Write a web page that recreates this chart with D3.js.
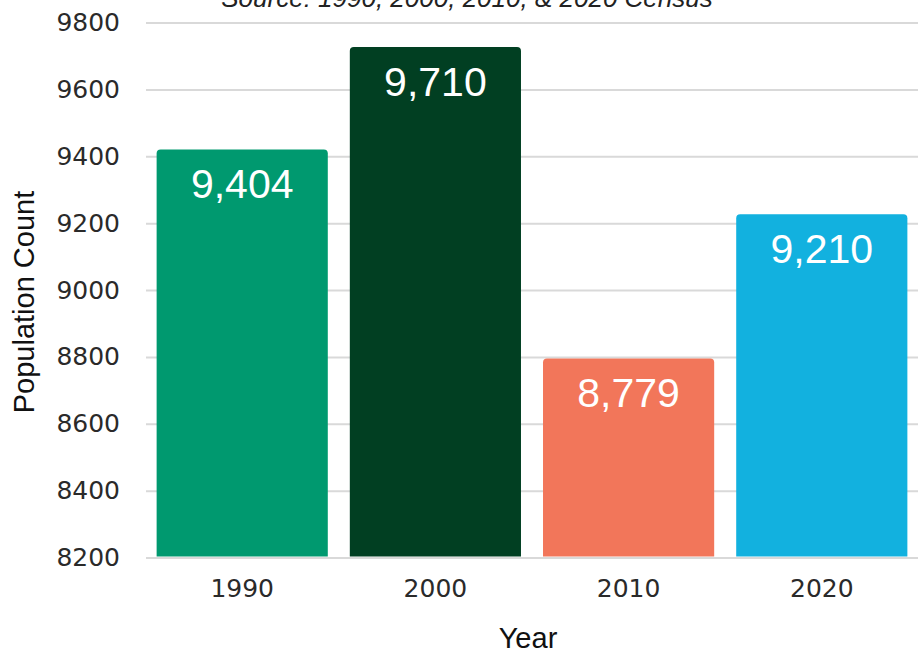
<!DOCTYPE html>
<html><head><meta charset="utf-8">
<script src="https://cdn.jsdelivr.net/npm/d3@7"></script>
<style>body{margin:0;background:#fff}svg{display:block}</style>
</head><body>
<script>
const years = ["1990","2000","2010","2020"];
const population = [9404, 9710, 8779, 9210];
const barColors = ["#00996f","#013f22","#f2765a","#12b1df"];
const yTicks = [8200,8400,8600,8800,9000,9200,9400,9600,9800];
const titleText = "Source: 1990, 2000, 2010, & 2020 Census";

const W = 922, H = 654;
const m = {left:146, right:4, top:22.5, bottom:96.5};
const svg = d3.select("body").append("svg").attr("width",W).attr("height",H);

const x = d3.scaleBand().domain(years).range([m.left, W-m.right]).paddingInner(0.114).paddingOuter(0.055);
const y = d3.scaleLinear().domain([8200,9800]).range([H-m.bottom, m.top]);

// gridlines
svg.append("g").attr("class","grid")
  .attr("transform",`translate(${m.left},0)`)
  .call(d3.axisLeft(y).tickValues(yTicks).tickSize(-(W-m.right-m.left)).tickFormat(""))
  .call(g=>g.select(".domain").remove())
  .call(g=>g.selectAll("line").attr("stroke","#d9d9d9").attr("stroke-width",2));

// y tick labels
svg.append("g")
  .attr("transform",`translate(${m.left},0)`)
  .call(d3.axisLeft(y).tickValues(yTicks).tickSize(0).tickPadding(26).tickFormat(d3.format("d")))
  .call(g=>g.select(".domain").remove())
  .call(g=>g.selectAll("text").attr("font-family","DejaVu Sans").attr("font-size",25).attr("fill","#2a2a2a"));

// bars (rounded top)
const r = 4, lift = 5.5;
function barPath(d,i){
  const x0 = x(years[i]), w = x.bandwidth();
  const top = y(d) - lift, bot = y(8200) - 1;
  return `M${x0},${bot}V${top+r}Q${x0},${top} ${x0+r},${top}H${x0+w-r}Q${x0+w},${top} ${x0+w},${top+r}V${bot}Z`;
}
svg.append("g").selectAll("path").data(population).join("path")
  .attr("d",barPath).attr("fill",(d,i)=>barColors[i]);

// value labels
svg.append("g").selectAll("text").data(population).join("text")
  .attr("x",(d,i)=>x(years[i])+x.bandwidth()/2)
  .attr("y",d=>y(d)-lift+49)
  .attr("text-anchor","middle")
  .attr("font-family","Liberation Sans").attr("font-size",41).attr("fill","#fff")
  .text(d=>d3.format(",")(d));

// x axis labels
svg.append("g")
  .attr("transform",`translate(0,${H-m.bottom})`)
  .call(d3.axisBottom(x).tickSize(0).tickPadding(22))
  .call(g=>g.select(".domain").remove())
  .call(g=>g.selectAll("text").attr("font-family","DejaVu Sans").attr("font-size",25).attr("fill","#2a2a2a"));

// axis titles
svg.append("text").attr("x",528).attr("y",648)
  .attr("text-anchor","middle").attr("font-family","Liberation Sans").attr("font-size",29).attr("fill","#111")
  .text("Year");
svg.append("text").attr("transform",`translate(34,302) rotate(-90)`)
  .attr("text-anchor","middle").attr("font-family","Liberation Sans").attr("font-size",29).attr("fill","#111")
  .text("Population Count");

// title (cropped at top)
svg.append("text").attr("x",467).attr("y",7)
  .attr("text-anchor","middle").attr("font-family","Liberation Sans").attr("font-style","italic")
  .attr("font-size",26).attr("fill","#222")
  .text(titleText);
</script>
</body></html>
